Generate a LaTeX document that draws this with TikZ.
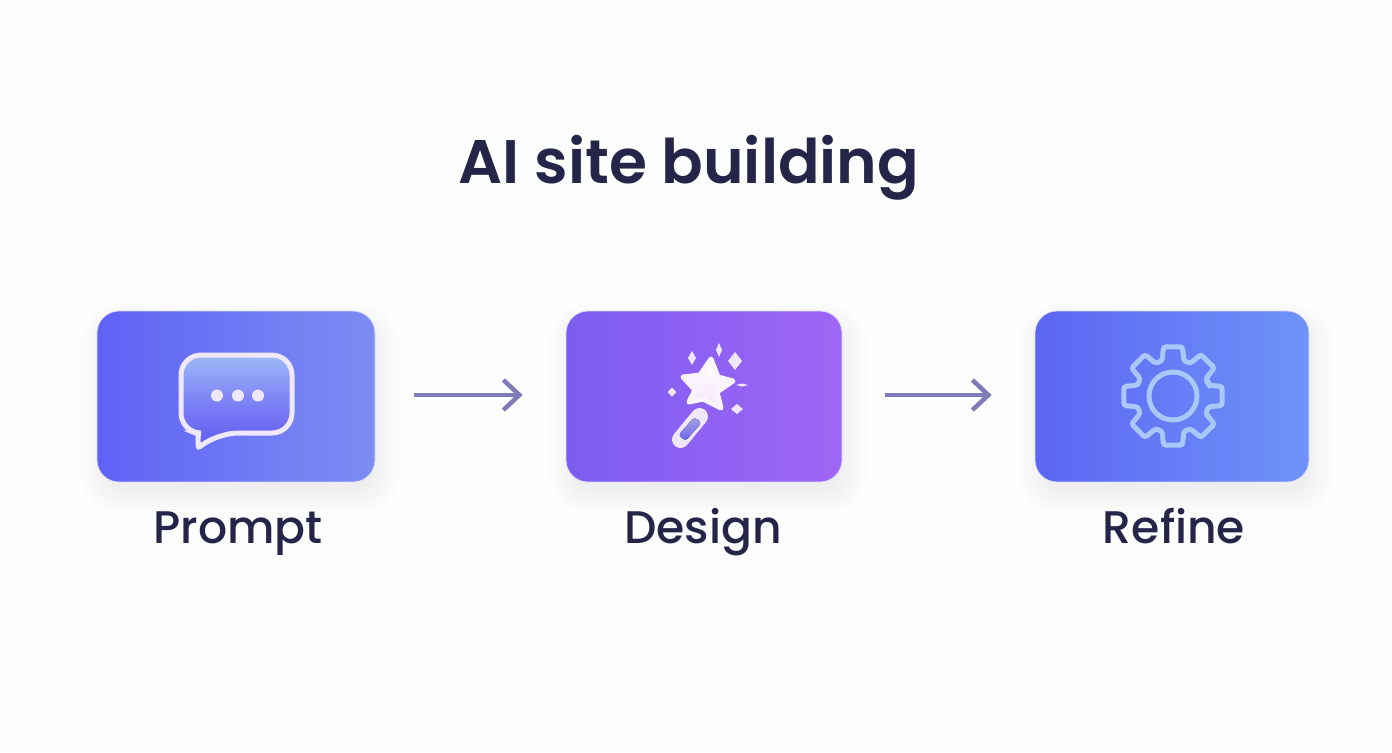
\documentclass[tikz,border=0pt]{standalone}
\usepackage{fontspec}
\setmainfont{Poppins}
\newfontfamily\titlefont{Poppins SemiBold}
\newfontfamily\labelfont{Poppins Medium}
\usetikzlibrary{calc}
\usetikzlibrary{positioning}
\usetikzlibrary{backgrounds}
\usetikzlibrary{arrows.meta}

\definecolor{pagebg}{HTML}{FEFEFE}
\definecolor{inkdark}{HTML}{25254A}
\definecolor{flowcol}{HTML}{7F7AB8}
\definecolor{shadowcol}{HTML}{6A5CD8}
\definecolor{softwhite}{HTML}{EFE7FB}
\definecolor{gearcol}{HTML}{A9C8F8}

\tikzset{
    card/.style = {minimum height = 3.42cm, rounded corners = 0.44cm, draw = white!85!blue, line width = 0.4pt},
    steplabel/.style = {text = inkdark, font = \labelfont\fontsize{26}{30}\selectfont, text height = 0.72cm, text depth = 0.22cm, inner sep = 0pt},
    flow/.style = {-{Straight Barb[length = 0.32cm, width = 0.6cm, line width = 0.09cm]}, flowcol, line width = 0.07cm},
}

\begin{document}
\begin{tikzpicture}[x = 0.02cm, y = -0.02cm]

    \useasboundingbox (0,0) rectangle (1392,752);

    \node (title) at (689,168) [text = inkdark, font = \titlefont\fontsize{35}{42}\selectfont, inner sep = 0pt] {AI site building};

    % cards
    \node (prompt) at (236,396.5) [card, minimum width = 5.56cm, left color = {rgb,255:red,94;green,98;blue,246}, right color = {rgb,255:red,125;green,141;blue,242}] {};
    \node (design) at (704,396.5) [card, minimum width = 5.52cm, left color = {rgb,255:red,124;green,92;blue,240}, right color = {rgb,255:red,160;green,102;blue,245}] {};
    \node (refine) at (1172,396.5) [card, minimum width = 5.48cm, left color = {rgb,255:red,91;green,102;blue,243}, right color = {rgb,255:red,111;green,147;blue,248}] {};

    \node (promptlabel) [steplabel, below = 0.5cm of prompt, xshift = 0.04cm] {Prompt};
    \node (designlabel) [steplabel, below = 0.5cm of design, xshift = -0.02cm] {Design};
    \node (refinelabel) [steplabel, below = 0.5cm of refine, xshift = 0.04cm] {Refine};

    \draw[flow, shorten <= 0.78cm, shorten >= 0.86cm] ([yshift = 0.03cm]prompt.east) -- ([yshift = 0.03cm]design.west);
    \draw[flow, shorten <= 0.86cm, shorten >= 0.86cm] ([yshift = 0.03cm]design.east) -- ([yshift = 0.03cm]refine.west);

    % speech bubble
    \draw[softwhite, line width = 0.1cm, rounded corners = 0.4cm, top color = {rgb,255:red,158;green,186;blue,248}, bottom color = {rgb,255:red,94;green,90;blue,240}, middle color = {rgb,255:red,125;green,130;blue,245}]
        (181,355) -- (292,355) -- (292,433) -- (218,433) [rounded corners = 0.05cm] -- (198,448) -- (198,433) [rounded corners = 0.4cm] -- (181,433) -- cycle;
    \foreach \dotx in {217,238,258}
        \fill[softwhite] (\dotx,395.5) circle (0.12cm);

    % wand and star
    \draw[softwhite, line width = 0.34cm, line cap = round] (699.5,416.5) -- (680.5,439.5);
    \fill[top color = {rgb,255:red,165;green,160;blue,229}, bottom color = {rgb,255:red,107;green,100;blue,234}, rounded corners = 0.06cm]
        (701.5,422.9) -- (694.5,417.1) -- (678.5,435.1) -- (685.5,440.9) -- cycle;
    \draw[top color = white, bottom color = {rgb,255:red,246;green,228;blue,250}, draw = white!60!softwhite, line width = 0.1cm, line join = round]
        (711,359) -- (718,377) -- (733,381) -- (717,392) -- (721,408) -- (703,399) -- (689,402) -- (695,390) -- (683,377) -- (700,375) -- cycle;
    \foreach \sx/\sy/\rx/\ry in {692/358/4/7, 719/350/3/7, 735/361/7/9, 672/392/4.5/4.5, 742/385/6/1.5, 737/409/6/5}
        \fill[softwhite] (\sx-\rx,\sy) -- (\sx,\sy-\ry) -- (\sx+\rx,\sy) -- (\sx,\sy+\ry) -- cycle;

    % gear
    \begin{scope}[shift = {(1173,396)}]
        \draw[gearcol, line width = 0.1cm, rounded corners = 0.05cm]
            (-17:37)
            foreach \ang in {0,45,...,315} {
                -- (\ang-17:37) -- (\ang-11:50) -- (\ang+11:50) -- (\ang+17:37)
            } -- cycle;
        \draw[gearcol, line width = 0.1cm] (0,0) circle (0.48cm);
    \end{scope}

    \begin{pgfonlayer}{background}
        \fill[pagebg] (0,0) rectangle (1392,752);
        \foreach \cardname in {prompt,design,refine}
            \foreach \grow in {-8,-6,...,22}
                \fill[shadowcol, opacity = 0.005, rounded corners = {(0.44+\grow*0.02)*1cm}]
                    ($(\cardname.south west)+(-\grow+4,\grow+12)$) rectangle ($(\cardname.north east)+(\grow+4,-\grow+12)$);
    \end{pgfonlayer}

\end{tikzpicture}
\end{document}
